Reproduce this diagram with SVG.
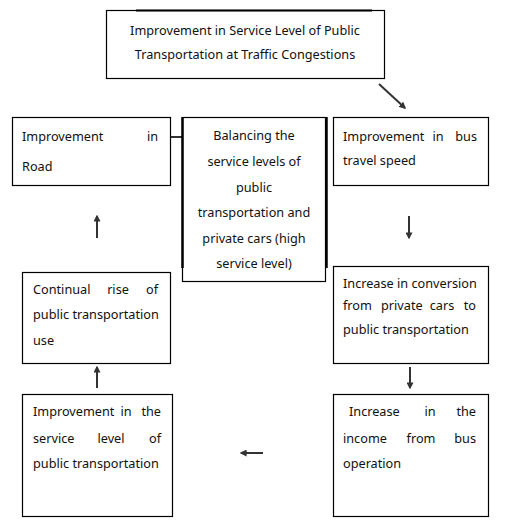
<svg xmlns="http://www.w3.org/2000/svg" width="505" height="528" viewBox="0 0 505 528">
<defs>
<style>
.box{fill:#fff;stroke:#000;stroke-width:1.2}
text{font-family:"Noto Sans","DejaVu Sans",sans-serif;font-size:12.7px;fill:#111}
.c{text-anchor:middle}
.e{text-anchor:end}
.arr{stroke:#333;stroke-width:2;fill:none;marker-end:url(#ah)}
</style>
<marker id="ah" viewBox="0 0 10 10" refX="8" refY="5" markerWidth="3.5" markerHeight="3.5" orient="auto" markerUnits="strokeWidth">
<path d="M0,0 L10,5 L0,10 z" fill="#333"/>
</marker>
</defs>
<rect width="505" height="528" fill="#fff"/>
<g id="connectors">
<line x1="171" y1="137" x2="182" y2="137" stroke="#333" stroke-width="2"/>
<line class="arr" x1="379" y1="84" x2="405" y2="108"/>
<line class="arr" x1="409" y1="216" x2="409" y2="238"/>
<line class="arr" x1="97" y1="238" x2="97" y2="216"/>
<line class="arr" x1="97" y1="388" x2="97" y2="367"/>
<line class="arr" x1="410" y1="367" x2="410" y2="388"/>
<line class="arr" x1="263" y1="453" x2="241" y2="453"/>
</g>
<g id="top">
<rect class="box" x="106.5" y="10.5" width="278" height="68"/>
<line x1="136" y1="10.5" x2="372" y2="10.5" stroke="#000" stroke-width="2"/>
<text class="c" x="245" y="35">Improvement in Service Level of Public</text>
<text class="c" x="245" y="59">Transportation at Traffic Congestions</text>
</g>
<g id="road">
<rect class="box" x="12.5" y="117.5" width="158" height="68"/>
<text x="22" y="141">Improvement</text><text class="e" x="158" y="141">in</text>
<text x="22" y="171">Road</text>
</g>
<g id="balance">
<rect class="box" x="182.5" y="117.5" width="143" height="164"/>
<line x1="182.5" y1="117" x2="182.5" y2="268" stroke="#000" stroke-width="2.5"/>
<line x1="326.5" y1="117" x2="326.5" y2="268" stroke="#000" stroke-width="2.5"/>
<text class="c" x="254" y="140">Balancing the</text>
<text class="c" x="254" y="166">service levels of</text>
<text class="c" x="254" y="192">public</text>
<text class="c" x="254" y="217">transportation and</text>
<text class="c" x="254" y="243">private cars (high</text>
<text class="c" x="254" y="268">service level)</text>
</g>
<g id="speed">
<rect class="box" x="333.5" y="117.5" width="155" height="68"/>
<text x="343" y="141">Improvement</text><text class="c" x="438" y="141">in</text><text class="e" x="477" y="141">bus</text>
<text x="343" y="165">travel speed</text>
</g>
<g id="rise">
<rect class="box" x="22.5" y="272.5" width="148" height="91"/>
<text x="33" y="294">Continual</text><text class="c" x="118" y="294">rise</text><text class="e" x="158" y="294">of</text>
<text x="33" y="319">public transportation</text>
<text x="33" y="345">use</text>
</g>
<g id="conversion">
<rect class="box" x="333.5" y="266.5" width="155" height="97"/>
<text x="343" y="288">Increase in conversion</text>
<text x="343" y="310">from</text><text x="381" y="310">private</text><text class="c" x="442" y="310">cars</text><text class="e" x="476" y="310">to</text>
<text x="343" y="334">public transportation</text>
</g>
<g id="service">
<rect class="box" x="22.5" y="394.5" width="150" height="122"/>
<text x="33" y="416">Improvement</text><text class="c" x="126" y="416">in</text><text class="e" x="161" y="416">the</text>
<text x="33" y="443">service</text><text class="c" x="111" y="443">level</text><text class="e" x="161" y="443">of</text>
<text x="33" y="468">public transportation</text>
</g>
<g id="income">
<rect class="box" x="333.5" y="394.5" width="155" height="122"/>
<text x="349" y="416">Increase</text><text class="c" x="430" y="416">in</text><text class="e" x="476" y="416">the</text>
<text x="343" y="443">income</text><text class="c" x="421" y="443">from</text><text class="e" x="476" y="443">bus</text>
<text x="343" y="468">operation</text>
</g>
</svg>
